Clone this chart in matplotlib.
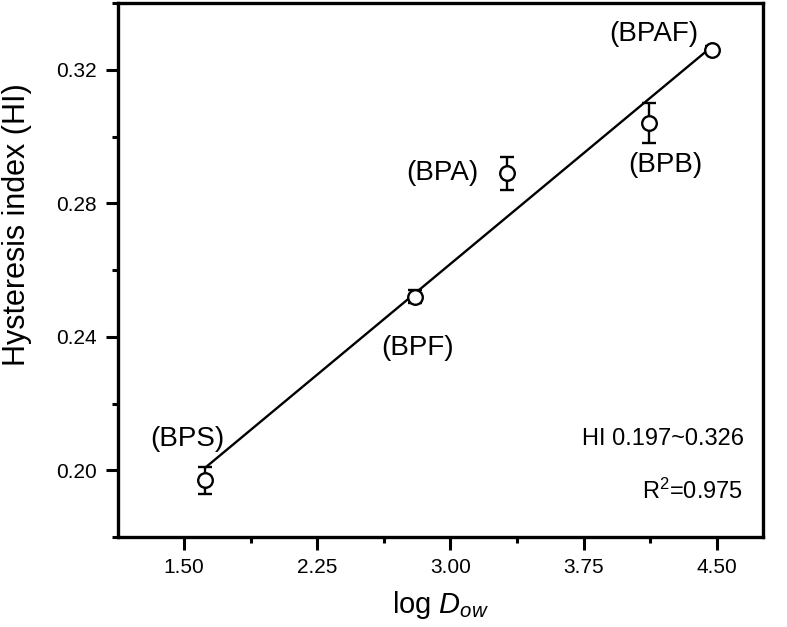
import matplotlib
matplotlib.use("Agg")
import matplotlib.pyplot as plt
import numpy as np

plt.rcParams['font.family'] = ['Liberation Sans', 'DejaVu Sans']
plt.rcParams['mathtext.fontset'] = 'custom'
plt.rcParams['mathtext.rm'] = 'Liberation Sans'
plt.rcParams['mathtext.it'] = 'Liberation Sans:italic'

compounds = ["BPS", "BPF", "BPA", "BPB", "BPAF"]
log_dow = [1.62, 2.80, 3.32, 4.12, 4.47]
hi = [0.197, 0.252, 0.289, 0.304, 0.326]
hi_err = [0.004, 0.002, 0.005, 0.006, 0.001]
label_pos = [(1.52, 0.2095), (2.815, 0.2365), (2.955, 0.289), (4.21, 0.2914), (4.146, 0.3307)]
x_ticks = [1.50, 2.25, 3.00, 3.75, 4.50]
y_ticks = [0.20, 0.24, 0.28, 0.32]

fig = plt.figure(figsize=(7.87, 6.27), dpi=100)
L, R, T, B = 118, 763, 3, 537
ax = fig.add_axes([L/787, 1-B/627, (R-L)/787, (B-T)/627])

slope, intercept = np.polyfit(log_dow, hi, 1)
xf = np.array([min(log_dow), max(log_dow)])
ax.plot(xf, slope*xf + intercept, color='black', lw=1.7, zorder=2)

ax.errorbar(log_dow, hi, yerr=hi_err, fmt='o', mfc='white', mec='black', mew=1.7,
            ms=10.5, ecolor='black', elinewidth=1.7, capsize=5, capthick=1.7, zorder=3)

for name, (lx, ly) in zip(compounds, label_pos):
    ax.text(lx, ly, f"({name})", ha='center', va='center', fontsize=20)

ax.text(4.197, 0.2095, "HI 0.197~0.326", ha='center', va='center', fontsize=17)
ax.text(4.365, 0.1937, "R$^2$=0.975", ha='center', va='center', fontsize=17)

ax.set_xlim(1.129, 4.759)
ax.set_ylim(0.18, 0.34)
ax.set_xticks(x_ticks)
ax.set_xticklabels([f"{v:.2f}" for v in x_ticks])
ax.set_yticks(y_ticks)
ax.set_yticklabels([f"{v:.2f}" for v in y_ticks])
ax.set_xticks([1.875, 2.625, 3.375, 4.125], minor=True)
ax.set_yticks([0.18, 0.22, 0.26, 0.30, 0.34], minor=True)
ax.tick_params(which='major', direction='out', length=9, width=2.2, labelsize=15, pad=6)
ax.tick_params(which='minor', direction='out', length=4.5, width=2.2)
for s in ax.spines.values():
    s.set_linewidth(2.4)

ax.set_xlabel("log $\\mathit{D}_{\\mathit{ow}}$", fontsize=21, labelpad=9)
ax.set_ylabel("Hysteresis index (HI)", fontsize=22)
ax.yaxis.set_label_coords(-0.134, 0.585)

fig.savefig("out.png", dpi=100)
